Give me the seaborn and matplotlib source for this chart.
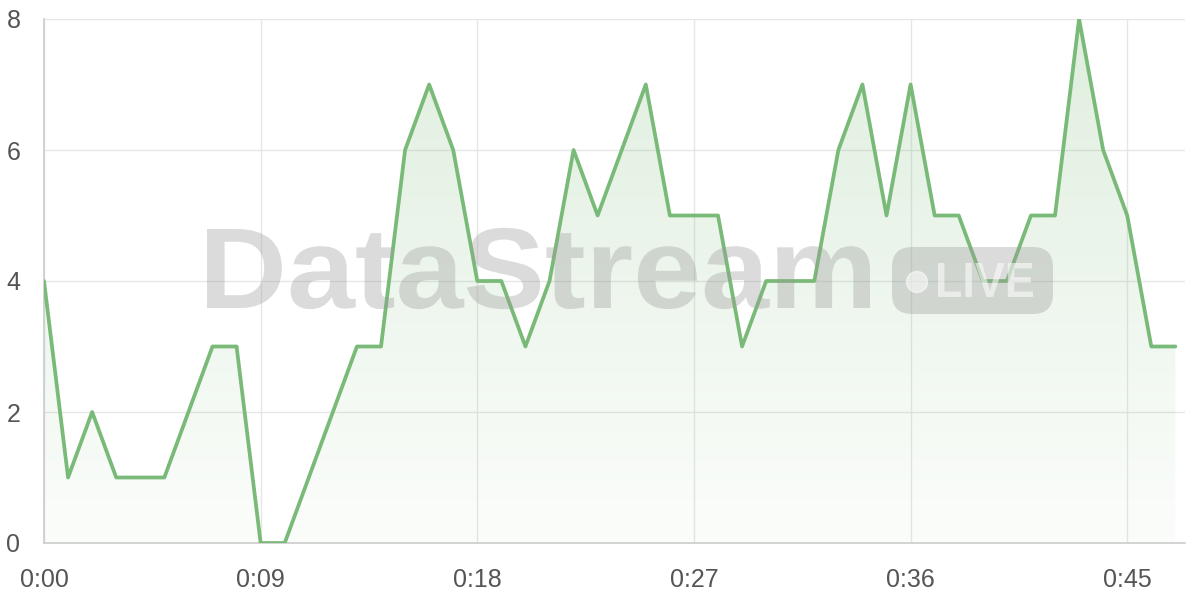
import numpy as np
import pandas as pd
import matplotlib
matplotlib.use("Agg")
import matplotlib.pyplot as plt
import seaborn as sns
from matplotlib.patches import FancyBboxPatch, Circle, PathPatch
from matplotlib.textpath import TextPath
from matplotlib.font_manager import FontProperties
from matplotlib.transforms import Affine2D, IdentityTransform

# minute index and the value recorded at each minute
minutes = list(range(48))
values = [4, 1, 2, 1, 1, 1, 2, 3, 3, 0,
          0, 1, 2, 3, 3, 6, 7, 6, 4, 4,
          3, 4, 6, 5, 6, 7, 5, 5, 5, 3,
          4, 4, 4, 6, 7, 5, 7, 5, 5, 4,
          4, 5, 5, 8, 6, 5, 3, 3]
tick_minutes = [0, 9, 18, 27, 36, 45]
tick_labels = ["0:00", "0:09", "0:18", "0:27", "0:36", "0:45"]
y_ticks = [0, 2, 4, 6, 8]

line_color = "#7aba78"

sns.set_theme(style="white")
plt.rcParams["font.family"] = ["Liberation Sans", "DejaVu Sans"]

df = pd.DataFrame({"minute": minutes, "value": values})

W, H = 1200, 600
fig = plt.figure(figsize=(12, 6), dpi=100)
ax = fig.add_axes([44 / W, 57 / H, (1185 - 44) / W, (543 - 19) / H])

# gradient fill under the line
poly = ax.fill_between(df["minute"], df["value"], 0, color="none", zorder=1)
grad = np.linspace(0.03, 0.24, 256).reshape(-1, 1)
rgba = np.zeros((256, 1, 4))
rgba[..., 0] = 0.48
rgba[..., 1] = 0.73
rgba[..., 2] = 0.47
rgba[..., 3] = grad
img = ax.imshow(rgba, extent=[0, 47, 0, 8], origin="lower", aspect="auto", zorder=1)
img.set_clip_path(poly.get_paths()[0], transform=ax.transData)

sns.lineplot(data=df, x="minute", y="value", ax=ax, color=line_color,
             linewidth=2.7, zorder=4)

ax.set_xlim(0, 47.4)
ax.set_ylim(0, 8)
ax.set_xticks(tick_minutes)
ax.set_xticklabels(tick_labels)
ax.set_yticks(y_ticks)
ax.set_xlabel("")
ax.set_ylabel("")
ax.grid(True, color="#e6e6e6", linewidth=1)
for s in ["top", "right"]:
    ax.spines[s].set_visible(False)
for s in ["left", "bottom"]:
    ax.spines[s].set_color("#cccccc")
    ax.spines[s].set_linewidth(1.2)
ax.tick_params(axis="both", color="#e6e6e6", labelsize=18, labelcolor="#555555")
ax.tick_params(axis="y", length=12, pad=5)
ax.tick_params(axis="x", length=8, pad=10)


# watermark: stretch a text path into a pixel box (left, right, cap top, baseline)
def stamp(text, x0, x1, top, base, color, alpha):
    prop = FontProperties(family="Liberation Sans", weight="bold")
    tp = TextPath((0, 0), text, size=100, prop=prop)
    cap = TextPath((0, 0), text[0], size=100, prop=prop).get_extents().y1
    bb = tp.get_extents()
    tr = (Affine2D().translate(-bb.x0, 0)
          .scale((x1 - x0) / bb.width, (base - top) / cap)
          .translate(x0, H - base))
    patch = PathPatch(tr.transform_path(tp), transform=IdentityTransform(),
                      facecolor=color, edgecolor="none", alpha=alpha, zorder=3)
    fig.patches.append(patch)


stamp("DataStream", 207, 870, 229, 308, "#9a9a9a", 0.35)
badge = FancyBboxPatch((892, H - 314), 161, 67,
                       boxstyle="round,pad=0,rounding_size=20",
                       transform=IdentityTransform(), facecolor="#9a9a9a",
                       edgecolor="none", alpha=0.35, zorder=3)
fig.patches.append(badge)
stamp("LIVE", 938, 1033, 263, 297, "white", 0.55)
dot = Circle((917, H - 282), 10.5, transform=IdentityTransform(),
             facecolor="white", alpha=0.55, zorder=3)
fig.patches.append(dot)

fig.savefig("out.png", dpi=100)
